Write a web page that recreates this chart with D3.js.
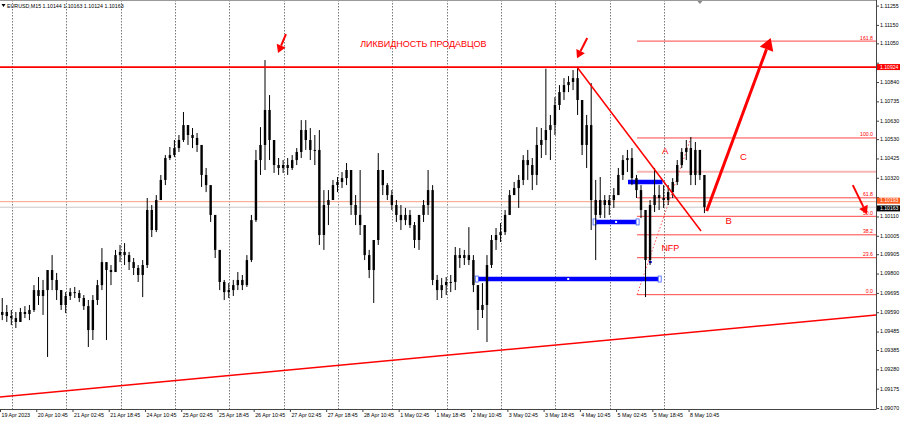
<!DOCTYPE html>
<html><head><meta charset="utf-8">
<script src="https://cdn.jsdelivr.net/npm/d3@7"></script>
<style>body{margin:0;background:#fff;} svg{display:block;font-family:"Liberation Sans",Arial,sans-serif;}</style>
</head><body>
<svg id="c" width="900" height="421"></svg>
<script>
// ---------- DATA ----------
const headerText = "EURUSD,M15  1.10144 1.10163 1.10124 1.10163";
const barsPerCandle = 8;            // one drawn candle = 8 M15 bars (2 hours)
const firstOpen = 1.09578;
const highs = [1.09670,1.09632,1.09605,1.09594,1.09616,1.09626,1.09632,1.09740,1.09784,1.09768,
1.09822,1.09903,1.09806,1.09713,1.09702,1.09724,1.09730,1.09713,1.09686,1.09659,
1.09686,1.09768,1.09941,1.09865,1.09849,1.09931,1.09958,1.09968,1.09920,1.09887,
1.09849,1.09876,1.10213,1.10175,1.10229,1.10338,1.10446,1.10490,1.10528,1.10555,
1.10680,1.10609,1.10593,1.10566,1.10501,1.10376,1.10283,1.10121,1.09931,1.09768,
1.09751,1.09768,1.09811,1.09795,1.09903,1.10121,1.10474,1.10598,1.10962,1.10772,
1.10528,1.10430,1.10419,1.10430,1.10446,1.10484,1.10636,1.10636,1.10593,1.10555,
1.10582,1.10256,1.10256,1.10311,1.10327,1.10354,1.10403,1.10365,1.10229,1.10365,
1.10066,1.09931,1.09985,1.10457,1.10365,1.10294,1.10256,1.10202,1.10175,1.10159,
1.10148,1.10083,1.10121,1.10202,1.10365,1.10283,1.09795,1.09778,1.09784,1.09795,
1.09947,1.09941,1.09931,1.10055,1.09903,1.09740,1.09751,1.09903,1.10012,1.10050,
1.10077,1.10148,1.10256,1.10300,1.10338,1.10446,1.10474,1.10430,1.10598,1.10593,
1.10915,1.10664,1.10761,1.10826,1.10864,1.10875,1.10908,1.10924,1.10745,1.10664,
1.10837,1.10311,1.10327,1.10229,1.10229,1.10267,1.10376,1.10446,1.10474,1.10484,
1.10338,1.10283,1.10148,1.10202,1.10376,1.10283,1.10283,1.10283,1.10321,1.10419,
1.10484,1.10528,1.10544,1.10517,1.10474,1.10338];
const lows = [1.09550,1.09540,1.09523,1.09507,1.09540,1.09561,1.09550,1.09594,1.09632,1.09578,
1.09350,1.09713,1.09659,1.09605,1.09588,1.09659,1.09670,1.09648,1.09605,1.09404,
1.09442,1.09632,1.09713,1.09442,1.09740,1.09811,1.09865,1.09849,1.09822,1.09795,
1.09757,1.09675,1.09833,1.10001,1.10028,1.10202,1.10283,1.10419,1.10435,1.10463,
1.10517,1.10501,1.10484,1.10463,1.10273,1.10245,1.10083,1.09887,1.09713,1.09659,
1.09670,1.09681,1.09713,1.09713,1.09730,1.09865,1.10083,1.10338,1.10365,1.10419,
1.10349,1.10338,1.10349,1.10338,1.10365,1.10392,1.10430,1.10474,1.10419,1.10392,
1.09958,1.09931,1.10066,1.10202,1.10245,1.10267,1.10283,1.10121,1.10066,1.10012,
1.09876,1.09778,1.09643,1.09958,1.10229,1.10202,1.10148,1.10083,1.10039,1.10066,
1.10050,1.09941,1.09931,1.10083,1.10121,1.09740,1.09659,1.09670,1.09686,1.09702,
1.09713,1.09833,1.09849,1.09849,1.09702,1.09496,1.09561,1.09431,1.09833,1.09931,
1.09974,1.10012,1.10121,1.10229,1.10159,1.10283,1.10311,1.10256,1.10283,1.10430,
1.10446,1.10419,1.10555,1.10691,1.10745,1.10788,1.10799,1.10664,1.10446,1.10376,
1.10039,1.09876,1.10104,1.10104,1.10121,1.10159,1.10229,1.10311,1.10354,1.10283,
1.10213,1.10104,1.09675,1.09849,1.10137,1.10148,1.10159,1.10175,1.10213,1.10283,
1.10376,1.10419,1.10283,1.10283,1.10311,1.10131];
const closes = [1.09594,1.09572,1.09561,1.09540,1.09594,1.09583,1.09605,1.09713,1.09681,1.09713,
1.09822,1.09768,1.09713,1.09632,1.09681,1.09702,1.09697,1.09670,1.09626,1.09496,
1.09659,1.09740,1.09865,1.09822,1.09811,1.09903,1.09920,1.09903,1.09865,1.09833,
1.09795,1.09849,1.10148,1.10039,1.10202,1.10311,1.10430,1.10446,1.10484,1.10528,
1.10609,1.10555,1.10539,1.10501,1.10338,1.10283,1.10121,1.09931,1.09757,1.09702,
1.09713,1.09740,1.09768,1.09740,1.09876,1.10093,1.10419,1.10501,1.10691,1.10528,
1.10392,1.10376,1.10392,1.10376,1.10419,1.10463,1.10582,1.10528,1.10474,1.10474,
1.10012,1.10175,1.10202,1.10283,1.10300,1.10321,1.10365,1.10175,1.10121,1.10066,
1.09903,1.09822,1.09985,1.10365,1.10283,1.10229,1.10175,1.10121,1.10093,1.10121,
1.10066,1.09985,1.10121,1.10175,1.10256,1.09768,1.09713,1.09740,1.09757,1.09757,
1.09903,1.09887,1.09903,1.09876,1.09740,1.09605,1.09632,1.09849,1.09985,1.10012,
1.10028,1.10121,1.10229,1.10267,1.10311,1.10419,1.10392,1.10338,1.10501,1.10528,
1.10582,1.10609,1.10718,1.10788,1.10826,1.10843,1.10864,1.10745,1.10501,1.10609,
1.10202,1.10121,1.10202,1.10175,1.10202,1.10229,1.10338,1.10419,1.10430,1.10321,
1.10256,1.10148,1.09876,1.10175,1.10229,1.10213,1.10202,1.10245,1.10300,1.10392,
1.10463,1.10484,1.10338,1.10474,1.10338,1.10163];

const timeLabels = ["19 Apr 2023","20 Apr 10:45","21 Apr 02:45","21 Apr 18:45","24 Apr 10:45",
"25 Apr 02:45","25 Apr 18:45","26 Apr 10:45","27 Apr 02:45","27 Apr 18:45","28 Apr 10:45",
"1 May 02:45","1 May 18:45","2 May 10:45","3 May 02:45","3 May 18:45","4 May 10:45",
"5 May 02:45","5 May 18:45","8 May 10:45"];
const barsPerLabel = 64;
const firstDayBar = 21, barsPerDay = 96;
const priceTicks = [1.11255,1.11150,1.11050,1.10945,1.10840,1.10735,1.10630,1.10530,1.10425,
1.10320,1.10215,1.10110,1.10005,1.09905,1.09800,1.09695,1.09590,1.09485,1.09385,1.09280,1.09175,1.09070];

const resistance = 1.10924;
const orangeLevel = 1.10193;
const bidPrice = 1.10163;
const fibStartBar = 1125, fibLow = 1.09688, fibHigh = 1.10539;
const fibLevels = [0, 23.6, 38.2, 50.0, 61.8, 100.0, 161.8];
const fibExtraLevel = 1.10356;   // light pink level

// blue zones: [startBar, endBar, price, endMarkers]
const blueZones = [[842, 1165, 1.09773, true], [1050, 1126, 1.10083, true], [1109, 1170, 1.10300, false]];
const blueTick = [1146, 1151, 1.09865];
// trend lines: [bar1, price1, bar2, price2]
const downTrend = [1019, 1.10924, 1238, 1.10034];
const supportLine = [0, 1.09132, 1547, 1.09578];
// arrows: [tailBar, tailPrice, tipBar, tipPrice, width]
const arrows = [[505, 1.11103, 491, 1.11000, 2], [1037, 1.11082, 1019, 1.10972, 2],
                [1506, 1.10283, 1531, 1.10126, 2], [1248, 1.10142, 1361, 1.11082, 3]];
// text labels: [text, bar, price, size]
const labels = [["ЛИКВИДНОСТЬ ПРОДАВЦОВ", 636, 1.11044, 9], ["A", 1169, 1.10463, 9.5],
                ["C", 1307, 1.10435, 9.5], ["B", 1281, 1.10083, 9.5], ["NFP", 1168, 1.09936, 9]];

// ---------- DRAW ----------
const W = 900, H = 421, plotR = 876, plotB = 409;
const svg = d3.select("#c");
const x = d3.scaleLinear().domain([0, 1547]).range([0, plotR]);
const y = d3.scaleLinear().domain([1.09070, 1.11255]).range([408.5, 6.1]);
const red = "#ff0000";

svg.append("defs").append("clipPath").attr("id", "pc")
  .append("rect").attr("x", 0).attr("y", 0).attr("width", plotR).attr("height", plotB);
const g = svg.append("g").attr("clip-path", "url(#pc)");

// grid (daily)
const nBars = closes.length * barsPerCandle;
g.selectAll(".grid").data(d3.range(firstDayBar, nBars, barsPerDay)).join("line")
  .attr("x1", d => Math.round(x(d)) + 0.5).attr("x2", d => Math.round(x(d)) + 0.5)
  .attr("y1", 0).attr("y2", plotB)
  .attr("stroke", "#555").attr("stroke-width", 0.8).attr("stroke-dasharray", "1.5,1.5");

// horizontal reference levels
g.append("line").attr("x1", 0).attr("x2", plotR).attr("y1", y(orangeLevel)).attr("y2", y(orangeLevel))
  .attr("stroke", "#f7a080").attr("stroke-width", 1);
g.append("line").attr("x1", 0).attr("x2", plotR).attr("y1", y(bidPrice)).attr("y2", y(bidPrice))
  .attr("stroke", "#c8c8c8").attr("stroke-width", 1);

// fibonacci
const fibPrice = l => fibLow + (fibHigh - fibLow) * l / 100;
g.append("line").attr("x1", x(fibStartBar)).attr("x2", plotR)
  .attr("y1", y(fibExtraLevel)).attr("y2", y(fibExtraLevel))
  .attr("stroke", "#f6b4b4").attr("stroke-width", 2);
g.selectAll(".fib").data(fibLevels).join("line")
  .attr("x1", x(fibStartBar)).attr("x2", plotR)
  .attr("y1", d => y(fibPrice(d))).attr("y2", d => y(fibPrice(d)))
  .attr("stroke", "#ff3030").attr("stroke-width", 0.9);
g.selectAll(".fibt").data(fibLevels).join("text")
  .attr("x", plotR - 3).attr("y", d => y(fibPrice(d)) - 1.5)
  .attr("text-anchor", "end").attr("font-size", 5.2).attr("fill", red)
  .text(d => d.toFixed(1));
g.append("line").attr("x1", x(fibStartBar)).attr("y1", y(fibLow))
  .attr("x2", x(1220)).attr("y2", y(fibHigh))
  .attr("stroke", "#ff5050").attr("stroke-width", 1).attr("stroke-dasharray", "1.5,2");

// blue zones
blueZones.forEach(([b1, b2, p, mk]) => {
  g.append("line").attr("x1", x(b1)).attr("x2", x(b2)).attr("y1", y(p)).attr("y2", y(p))
    .attr("stroke", "#0000ff").attr("stroke-width", 4.5);
  if (mk) {
    [b1, b2].forEach(b => g.append("rect").attr("x", x(b) - 1.5).attr("y", y(p) - 3)
      .attr("width", 3).attr("height", 6).attr("fill", "#fff").attr("stroke", "#3b5bff").attr("stroke-width", 0.8));
    g.append("rect").attr("x", x((b1 + b2) / 2) - 1).attr("y", y(p) - 1).attr("width", 2).attr("height", 2).attr("fill", "#fff");
  }
});
g.append("line").attr("x1", x(blueTick[0])).attr("x2", x(blueTick[1]))
  .attr("y1", y(blueTick[2])).attr("y2", y(blueTick[2])).attr("stroke", "#0000ff").attr("stroke-width", 2);

// candles
const candles = closes.map((c, i) => ({
  bar: i * barsPerCandle + barsPerCandle / 2,
  o: i === 0 ? firstOpen : closes[i - 1], h: highs[i], l: lows[i], c: c
}));
g.selectAll(".wick").data(candles).join("line")
  .attr("x1", d => x(d.bar)).attr("x2", d => x(d.bar))
  .attr("y1", d => y(d.h)).attr("y2", d => y(d.l))
  .attr("stroke", "#000").attr("stroke-width", 1);
g.selectAll(".body").data(candles).join("rect")
  .attr("x", d => x(d.bar) - 1.2).attr("width", 2.4)
  .attr("y", d => Math.min(y(d.o), y(d.c)))
  .attr("height", d => Math.max(1, Math.abs(y(d.o) - y(d.c))))
  .attr("fill", "#000");

// resistance line
g.append("line").attr("x1", 0).attr("x2", plotR).attr("y1", y(resistance)).attr("y2", y(resistance))
  .attr("stroke", red).attr("stroke-width", 1.8);

// trend lines
[downTrend, supportLine].forEach(([b1, p1, b2, p2]) => {
  g.append("line").attr("x1", x(b1)).attr("y1", y(p1)).attr("x2", x(b2)).attr("y2", y(p2))
    .attr("stroke", red).attr("stroke-width", 1.5);
});

// arrows
arrows.forEach(([b1, p1, b2, p2, w]) => {
  const x1 = x(b1), y1 = y(p1), x2 = x(b2), y2 = y(p2);
  const ang = Math.atan2(y2 - y1, x2 - x1);
  const hl = w * 4, hw = w * 2.4;
  const bx = x2 - hl * Math.cos(ang), by = y2 - hl * Math.sin(ang);
  g.append("line").attr("x1", x1).attr("y1", y1).attr("x2", bx).attr("y2", by)
    .attr("stroke", red).attr("stroke-width", w);
  const px = -Math.sin(ang), py = Math.cos(ang);
  g.append("path").attr("d", `M${x2},${y2}L${bx + px * hw},${by + py * hw}L${bx - px * hw},${by - py * hw}Z`)
    .attr("fill", red);
});

// labels
labels.forEach(([t, b, p, s]) => {
  g.append("text").attr("x", x(b)).attr("y", y(p)).attr("dominant-baseline", "middle")
    .attr("font-size", s).attr("fill", red).text(t);
});

// header
svg.append("path").attr("d", "M1.5,4L5.5,4L3.5,7Z").attr("fill", "#000");
svg.append("text").attr("x", 7).attr("y", 7.5).attr("font-size", 5.3).attr("fill", "#000").text(headerText);
svg.append("path").attr("d", `M${x(1236) - 2.5},1L${x(1236) + 2.5},1L${x(1236)},4Z`).attr("fill", "#888");

// frame / axes
svg.append("line").attr("x1", 0).attr("x2", plotR).attr("y1", 0.5).attr("y2", 0.5).attr("stroke", "#999");
svg.append("line").attr("x1", plotR + 0.5).attr("x2", plotR + 0.5).attr("y1", 0).attr("y2", plotB)
  .attr("stroke", "#444");
svg.append("line").attr("x1", 0).attr("x2", plotR + 0.5).attr("y1", plotB + 0.5).attr("y2", plotB + 0.5)
  .attr("stroke", "#444");

// price boxes (placed first so axis labels can avoid them)
const boxes = [[resistance, red, 0], [orangeLevel, "#ff5a1e", -1], [bidPrice, "#000", 1.2]];
const boxH = 6;
const boxCenters = boxes.map(([p, col, dy]) => y(p) + dy);

// price axis
const pa = svg.append("g");
pa.selectAll("line").data(priceTicks).join("line")
  .attr("x1", plotR).attr("x2", plotR + 3).attr("y1", d => y(d)).attr("y2", d => y(d)).attr("stroke", "#444");
pa.selectAll("text").data(priceTicks.filter(p => boxCenters.every(c => Math.abs(y(p) - c) > boxH + 0.5)))
  .join("text")
  .attr("x", plotR + 4).attr("y", d => y(d)).attr("dominant-baseline", "middle")
  .attr("font-size", 5.3).attr("fill", "#000").text(d => d.toFixed(5));

boxes.forEach(([p, col, dy]) => {
  const cy = y(p) + dy;
  svg.append("rect").attr("x", plotR + 1).attr("y", cy - boxH / 2).attr("width", W - plotR - 1).attr("height", boxH).attr("fill", col);
  svg.append("text").attr("x", plotR + 4).attr("y", cy + 0.2).attr("dominant-baseline", "middle")
    .attr("font-size", 5.1).attr("fill", "#fff").text(p.toFixed(5));
});

// time axis
const ta = svg.append("g");
ta.selectAll("line").data(timeLabels).join("line")
  .attr("x1", (d, i) => x(i * barsPerLabel) + 0.5).attr("x2", (d, i) => x(i * barsPerLabel) + 0.5)
  .attr("y1", plotB).attr("y2", plotB + 3).attr("stroke", "#444");
ta.selectAll("text").data(timeLabels).join("text")
  .attr("x", (d, i) => x(i * barsPerLabel) + 1.5).attr("y", 416).attr("dominant-baseline", "middle")
  .attr("font-size", 5.3).attr("fill", "#000").text(d => d);
</script>
</body></html>
